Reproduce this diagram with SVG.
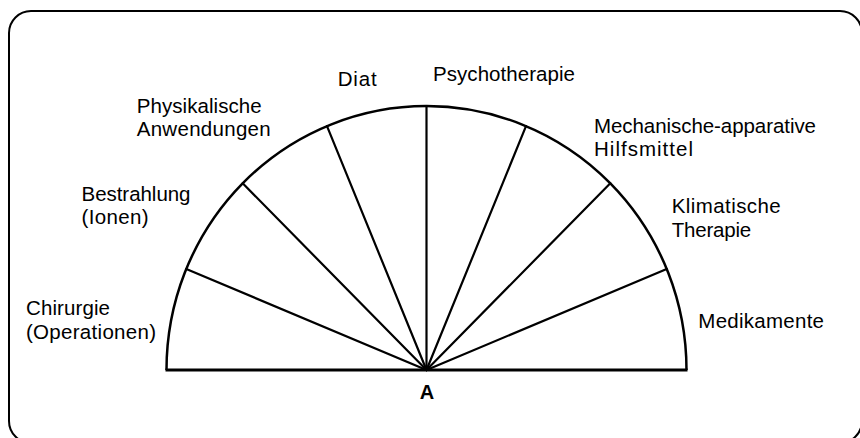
<svg xmlns="http://www.w3.org/2000/svg" width="860" height="438" viewBox="0 0 860 438">
<style>
.lbl{font-family:"Liberation Sans",Arial,sans-serif;font-size:20.5px;fill:#000}
.a{font-family:"Liberation Sans",Arial,sans-serif;font-size:20px;font-weight:bold;fill:#000}
.ray{stroke:#000;stroke-width:2.2;fill:none;stroke-linecap:round}
</style>
<rect x="9" y="11" width="853" height="432" rx="22" ry="22" fill="#fff" stroke="#000" stroke-width="2"/>
<g id="semicircle">
<path d="M166.5,370 A260,264 0 0 1 686.5,370" fill="none" stroke="#000" stroke-width="2.5"/>
<line x1="165.5" y1="370" x2="687.5" y2="370" stroke="#000" stroke-width="3"/>
</g>
<g id="connectors">
<line class="ray" x1="426.5" y1="370" x2="186.3" y2="269"/>
<line class="ray" x1="426.5" y1="370" x2="242.7" y2="183.3"/>
<line class="ray" x1="426.5" y1="370" x2="327" y2="126.1"/>
<line class="ray" x1="426.5" y1="370" x2="426.5" y2="106"/>
<line class="ray" x1="426.5" y1="370" x2="526" y2="126.1"/>
<line class="ray" x1="426.5" y1="370" x2="610.3" y2="183.3"/>
<line class="ray" x1="426.5" y1="370" x2="666.7" y2="269"/>
</g>
<g id="chirurgie"><text class="lbl" x="26" y="315" textLength="84">Chirurgie</text><text class="lbl" x="26" y="338.5" textLength="130">(Operationen)</text></g>
<g id="bestrahlung"><text class="lbl" x="81.5" y="201" textLength="109">Bestrahlung</text><text class="lbl" x="81.5" y="224" textLength="67">(Ionen)</text></g>
<g id="physikalisch"><text class="lbl" x="136.7" y="113.3" textLength="125">Physikalische</text><text class="lbl" x="136.7" y="136" textLength="134">Anwendungen</text></g>
<g id="diat"><text class="lbl" x="337.7" y="86" textLength="39">Diat</text></g>
<g id="psycho"><text class="lbl" x="433" y="80.7" textLength="142">Psychotherapie</text></g>
<g id="mechanisch"><text class="lbl" x="594" y="133.3" textLength="222">Mechanische-apparative</text><text class="lbl" x="594" y="155.5" textLength="99">Hilfsmittel</text></g>
<g id="klima"><text class="lbl" x="671.7" y="213.3" textLength="109">Klimatische</text><text class="lbl" x="671.7" y="236.7" textLength="79.5">Therapie</text></g>
<g id="medikamente"><text class="lbl" x="698.3" y="327.7" textLength="125.7">Medikamente</text></g>
<g id="a"><text class="a" x="427" y="399.3" text-anchor="middle">A</text></g>
</svg>
